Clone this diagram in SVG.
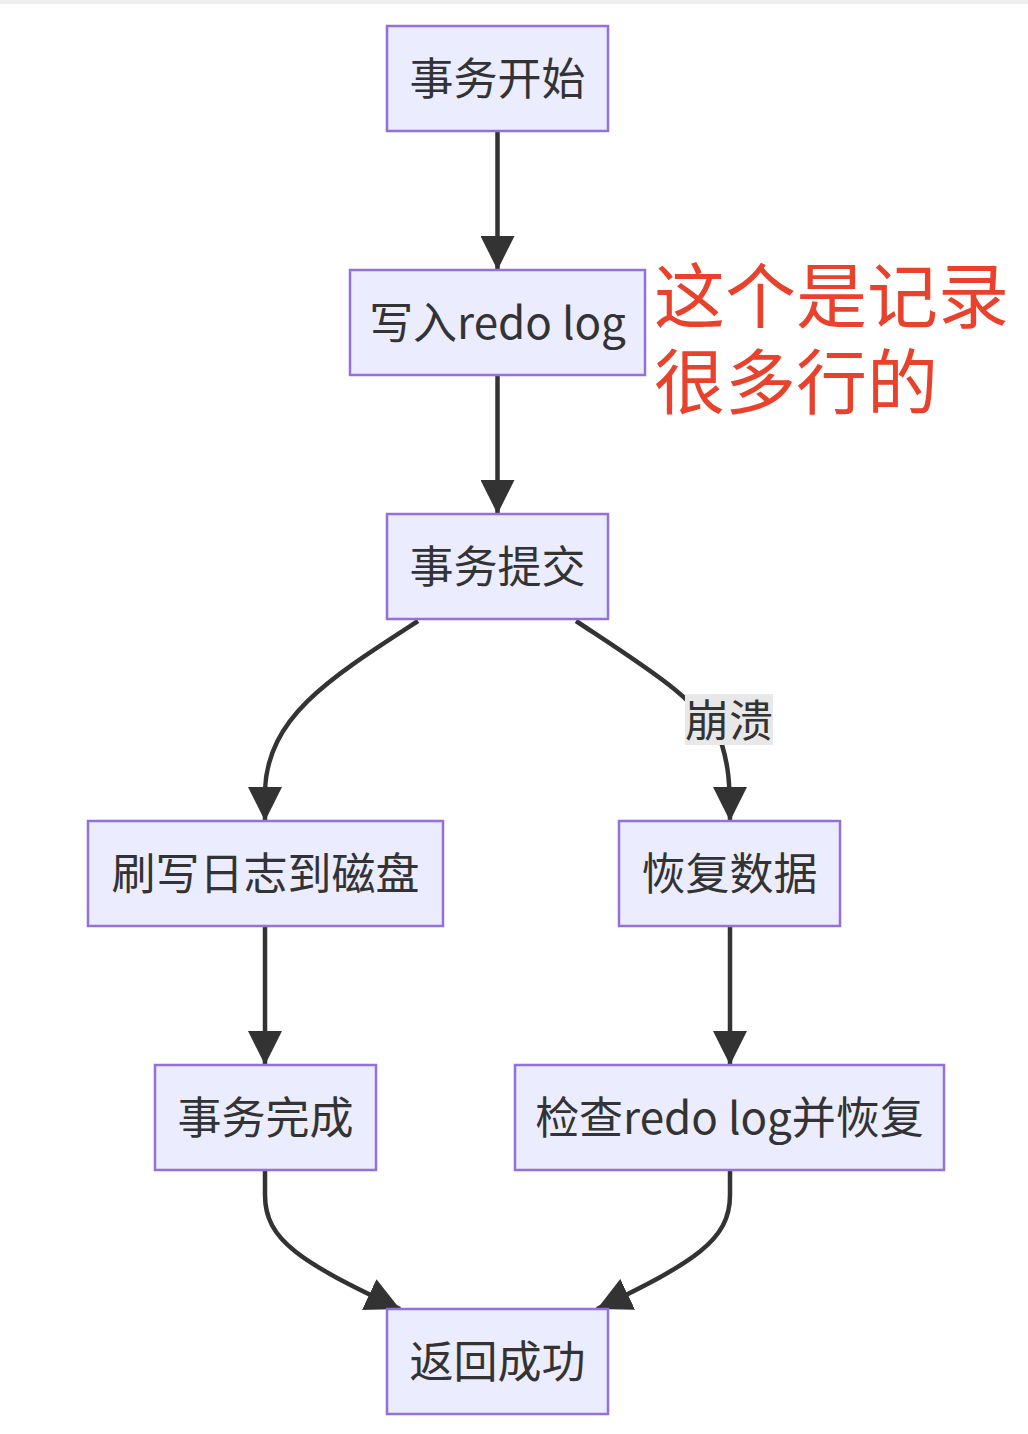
<svg xmlns="http://www.w3.org/2000/svg" width="1028" height="1434" viewBox="0 0 1028 1434">
<style>
.node rect{fill:#ECECFF;stroke:#9370DB;stroke-width:2.5}
.node text,.elabel text{font-family:"Noto Sans CJK SC","Noto Sans",sans-serif;font-size:44px;fill:#333;text-anchor:middle;dominant-baseline:central}
.edge{fill:none;stroke:#333;stroke-width:4.5}
.note{font-family:"Noto Sans CJK SC",sans-serif;font-size:71px;fill:#E8412C}
</style>
<defs>
<marker id="arr" viewBox="0 0 10 10" refX="10" refY="5" markerWidth="34" markerHeight="34" markerUnits="userSpaceOnUse" orient="auto">
<path d="M0,0 L10,5 L0,10 z" fill="#333"/>
</marker>
</defs>
<rect x="0" y="0" width="1028" height="1434" fill="#fff"/>
<rect x="0" y="0" width="1028" height="4" fill="#eeeeee"/>
<g id="connectors">
<path class="edge" d="M497.5,131 L497.5,270" marker-end="url(#arr)"/>
<path class="edge" d="M497.5,375 L497.5,514" marker-end="url(#arr)"/>
<path class="edge" d="M418,621 C330,678 268,716 265,790 L265,821" marker-end="url(#arr)"/>
<path class="edge" d="M576,621 C650,670 700,700 722,745 C728,765 730,780 730,821" marker-end="url(#arr)"/>
<path class="edge" d="M265,926 L265,1065" marker-end="url(#arr)"/>
<path class="edge" d="M730,926 L730,1065" marker-end="url(#arr)"/>
<path class="edge" d="M265,1170 L265,1195 C265,1240 300,1262 400,1309" marker-end="url(#arr)"/>
<path class="edge" d="M730,1170 L730,1195 C730,1240 695,1262 597,1309" marker-end="url(#arr)"/>
<g class="elabel">
<rect x="685" y="694" width="88" height="51" fill="#e8e8e8"/>
<text x="729" y="718">崩溃</text>
</g>
</g>
<g id="n1" class="node"><rect x="387" y="26" width="221" height="105"/><text x="497.5" y="76">事务开始</text></g>
<g id="n2" class="node"><rect x="350" y="270" width="295" height="105"/><text x="497.5" y="320">写入redo log</text></g>
<g id="n3" class="node"><rect x="387" y="514" width="221" height="105"/><text x="497.5" y="564">事务提交</text></g>
<g id="n4" class="node"><rect x="88" y="821" width="355" height="105"/><text x="265.5" y="871">刷写日志到磁盘</text></g>
<g id="n5" class="node"><rect x="619" y="821" width="221" height="105"/><text x="729.5" y="871">恢复数据</text></g>
<g id="n6" class="node"><rect x="155" y="1065" width="221" height="105"/><text x="265.5" y="1115">事务完成</text></g>
<g id="n7" class="node"><rect x="515" y="1065" width="429" height="105"/><text x="729.5" y="1115">检查redo log并恢复</text></g>
<g id="n8" class="node"><rect x="387" y="1309" width="221" height="105"/><text x="497.5" y="1359">返回成功</text></g>
<g id="annotation">
<text class="note" x="654" y="322">这个是记录<tspan x="654" y="408">很多行的</tspan></text>
</g>
</svg>
